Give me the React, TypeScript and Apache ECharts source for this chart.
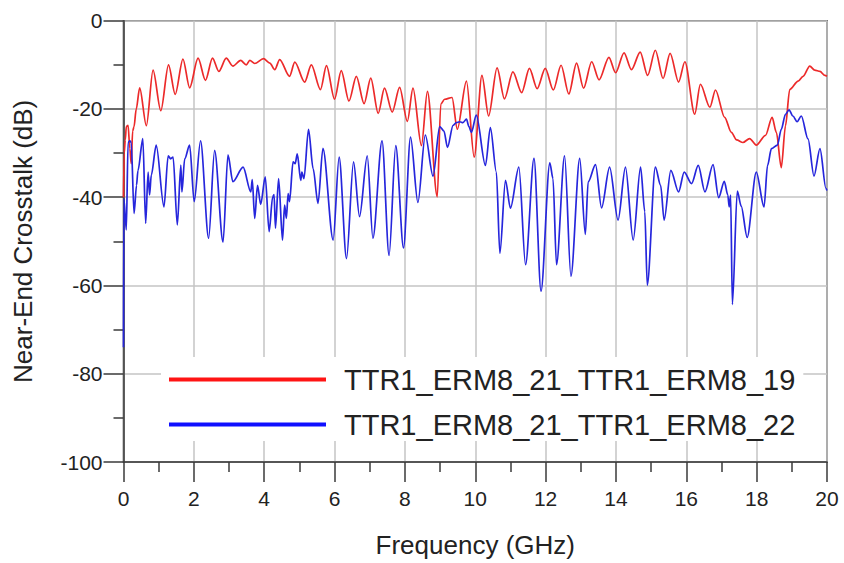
import React, { useEffect, useRef } from "react";
import * as echarts from "echarts";

const xTicks = [0, 2, 4, 6, 8, 10, 12, 14, 16, 18, 20];
const yTicks = [-100, -80, -60, -40, -20, 0];

const seriesNames = ["TTR1_ERM8_21_TTR1_ERM8_19", "TTR1_ERM8_21_TTR1_ERM8_22"];

const redFreq = [
  0.0, 0.02, 0.05, 0.08, 0.13, 0.18, 0.22, 0.26, 0.3, 0.36, 0.46, 0.65, 0.84, 1.06, 1.28, 1.47, 1.69, 1.88,
  2.12, 2.33, 2.53, 2.71, 2.92, 3.11, 3.33, 3.49, 3.59, 3.73, 3.98, 4.16, 4.3, 4.44, 4.72, 4.87, 5.15, 5.34,
  5.6, 5.77, 6.0, 6.19, 6.41, 6.62, 6.84, 7.03, 7.24, 7.42, 7.64, 7.85, 8.07, 8.23, 8.47, 8.64, 8.92, 9.02,
  9.13, 9.34, 9.49, 9.75, 9.97, 10.19, 10.38, 10.62, 10.83, 11.07, 11.32, 11.54, 11.76, 11.99, 12.22, 12.44,
  12.66, 12.88, 13.08, 13.31, 13.52, 13.8, 13.99, 14.23, 14.44, 14.69, 14.9, 15.12, 15.34, 15.54, 15.78,
  15.96, 16.24, 16.4, 16.67, 16.83, 17.09, 17.28, 17.43, 17.61, 17.8, 17.99, 18.25, 18.44, 18.56, 18.7,
  18.82, 18.94, 19.18, 19.32, 19.51, 19.65, 19.8, 19.94, 20.0,
];
const redDb = [
  -40, -30, -27, -24, -23.7, -29, -32.4, -25, -24, -20.1, -15.2, -23.8, -11.2, -20.4, -10, -16.7, -8.7, -15.2,
  -8.5, -13.5, -8.5, -11.5, -8.5, -10.3, -9, -10, -9, -9.7, -8.6, -9.6, -11.1, -8.8, -12.6, -9.4, -13.9, -10,
  -15.6, -10.2, -17.8, -11.3, -18.2, -12.6, -18.8, -13, -21, -15.3, -20.7, -15.1, -22.8, -15.3, -28.3, -16,
  -39.9, -18.9, -17.8, -17.4, -24.6, -13.7, -30.9, -12.4, -21.6, -10.7, -17.7, -11.6, -16.3, -10.8, -15.4,
  -10.8, -15.7, -10.1, -16.6, -9.6, -15.3, -9.3, -13.4, -8.3, -11.8, -7.3, -11.1, -7.1, -12.4, -6.7, -13.1,
  -7.4, -13.9, -9.3, -21.2, -14.4, -19.6, -15.7, -21.9, -25.3, -27, -27.6, -26.7, -28.2, -26, -21.9, -25.3,
  -33.3, -23.8, -15.6, -13.7, -12.6, -10.3, -11.2, -11.5, -12.4, -12.6,
];

const blueFreq = [
  0.0, 0.01, 0.08, 0.13, 0.18, 0.22, 0.3, 0.37, 0.41, 0.55, 0.63, 0.7, 0.74, 0.79, 0.93, 1.15, 1.27, 1.34, 1.41,
  1.53, 1.63, 1.66, 1.74, 1.88, 2.01, 2.19, 2.42, 2.59, 2.83, 2.97, 3.11, 3.4, 3.62, 3.66, 3.73, 3.81, 3.9,
  4.03, 4.14, 4.24, 4.28, 4.32, 4.41, 4.52, 4.58, 4.63, 4.68, 4.72, 4.82, 4.88, 4.94, 5.04, 5.07, 5.13, 5.26,
  5.39, 5.53, 5.67, 5.96, 6.13, 6.34, 6.54, 6.71, 6.93, 7.09, 7.35, 7.55, 7.74, 7.96, 8.16, 8.37, 8.58, 8.8,
  8.99, 9.11, 9.21, 9.37, 9.46, 9.56, 9.65, 9.75, 9.82, 9.89, 10.03, 10.29, 10.43, 10.6, 10.7, 10.86, 11.0,
  11.24, 11.43, 11.67, 11.87, 12.12, 12.21, 12.31, 12.54, 12.72, 12.97, 13.13, 13.21, 13.42, 13.59, 13.82,
  14.06, 14.27, 14.49, 14.7, 14.82, 14.89, 15.12, 15.27, 15.37, 15.56, 15.78, 15.94, 16.15, 16.34, 16.53,
  16.76, 16.92, 17.08, 17.18, 17.22, 17.26, 17.31, 17.45, 17.56, 17.73, 17.99, 18.21, 18.31, 18.42, 18.59,
  18.7, 18.82, 18.92, 19.03, 19.15, 19.27, 19.46, 19.63, 19.8, 19.97, 20.0,
];
const blueDb = [
  -74, -40.3, -47.4, -27.6, -27.2, -27.6, -43.7, -37.3, -34, -26.7, -45.9, -34.3, -39.5, -35, -28.2, -42.2,
  -30.6, -31.3, -30.9, -46.3, -32.7, -38.8, -31.3, -28.2, -41, -27.2, -49.3, -29.4, -50.2, -30.4, -36.5, -33.2,
  -38.8, -36, -44.8, -37.3, -41.6, -35.4, -47.8, -40, -39.4, -47, -35.8, -49.7, -41.8, -44.8, -39.2, -41, -32,
  -32.4, -30.2, -36.2, -34.3, -35.8, -24.6, -33.5, -41.4, -28.9, -49.7, -30.9, -53.9, -32, -44.4, -30.6, -49.3,
  -27.2, -53.2, -28.3, -51.5, -26.4, -41.2, -25.9, -35.2, -24, -25, -28.7, -23.7, -23.1, -22.9, -23.1, -22.3,
  -24, -25.3, -21.4, -32.8, -24.2, -34.3, -52.7, -36.2, -42.5, -33.2, -55.3, -31.2, -61.3, -32.2, -35.8, -55.3,
  -30.6, -57.9, -31.2, -48.4, -36.5, -32.6, -42.4, -33.2, -45.2, -33.2, -49.7, -33.2, -43.3, -59.9, -33.2,
  -37.3, -45.2, -33.9, -38.8, -34.3, -36.9, -32.8, -38.8, -32.6, -40.1, -36.4, -39.5, -42.2, -39.5, -64.3,
  -38.6, -42, -49.1, -34.3, -42.2, -32.8, -29, -28.2, -24.6, -21.2, -20.2, -21.6, -22.9, -21.6, -26.8, -35.2,
  -29, -38, -38.5,
];

const FONT = "'Liberation Sans', Arial, sans-serif";

export default function App() {
  const ref = useRef<HTMLDivElement>(null);
  useEffect(() => {
    if (!ref.current) return;
    const chart = echarts.init(ref.current, undefined, { renderer: "svg" });
    const red = redFreq.map((f, i) => [f, redDb[i]]);
    const blue = blueFreq.map((f, i) => [f, blueDb[i]]);
    chart.setOption({
      animation: false,
      backgroundColor: "#ffffff",
      grid: {
        left: 123.5,
        right: 17,
        top: 20.7,
        bottom: 97.3,
        show: true,
        borderColor: "#3a3a3a",
        borderWidth: 1.5,
        backgroundColor: "transparent",
      },
      xAxis: {
        type: "value",
        min: xTicks[0],
        max: xTicks[xTicks.length - 1],
        interval: 2,
        name: "Frequency (GHz)",
        nameLocation: "middle",
        nameGap: 70,
        nameTextStyle: { fontSize: 26, color: "#222", fontFamily: FONT },
        axisLine: { onZero: false, lineStyle: { color: "#3a3a3a", width: 1.5 } },
        axisTick: { show: true, inside: false, length: 20, lineStyle: { color: "#3a3a3a", width: 1.5 } },
        minorTick: { show: true, splitNumber: 2, length: 10, lineStyle: { color: "#3a3a3a", width: 1.5 } },
        axisLabel: { fontSize: 21, color: "#222", fontFamily: FONT, margin: 26 },
        splitLine: { show: true, lineStyle: { color: "#c4c4c4", width: 1.5 } },
      },
      yAxis: {
        type: "value",
        min: yTicks[0],
        max: yTicks[yTicks.length - 1],
        interval: 20,
        name: "Near-End Crosstalk (dB)",
        nameLocation: "middle",
        nameGap: 88,
        nameTextStyle: { fontSize: 26, color: "#222", fontFamily: FONT },
        axisLine: { onZero: false, lineStyle: { color: "#3a3a3a", width: 1.5 } },
        axisTick: { show: true, inside: false, length: 20, lineStyle: { color: "#3a3a3a", width: 1.5 } },
        minorTick: { show: true, splitNumber: 2, length: 10, lineStyle: { color: "#3a3a3a", width: 1.5 } },
        axisLabel: { fontSize: 21, color: "#222", fontFamily: FONT, margin: 21 },
        splitLine: { show: true, lineStyle: { color: "#c4c4c4", width: 1.5 } },
      },
      legend: {
        orient: "vertical",
        left: 161,
        top: 357,
        padding: [8, 8, 2, 8],
        itemGap: 16,
        itemWidth: 157,
        itemHeight: 4,
        icon: "rect",
        backgroundColor: "#ffffff",
        textStyle: { fontSize: 29, color: "#222", fontFamily: FONT, padding: [0, 0, 0, 13] },
        data: [
          { name: seriesNames[0], itemStyle: { color: "#ff1414" } },
          { name: seriesNames[1], itemStyle: { color: "#1010ff" } },
        ],
      },
      series: [
        {
          name: seriesNames[0],
          type: "line",
          data: red,
          showSymbol: false,
          smooth: 0.3,
          smoothMonotone: "x",
          lineStyle: { color: "#ec2a2a", width: 1.7 },
          itemStyle: { color: "#ec2a2a" },
        },
        {
          name: seriesNames[1],
          type: "line",
          data: blue,
          showSymbol: false,
          smooth: 0.3,
          smoothMonotone: "x",
          lineStyle: { color: "#2626dc", width: 1.7 },
          itemStyle: { color: "#2626dc" },
        },
      ],
    });
    return () => chart.dispose();
  }, []);
  return (
    <div
      ref={ref}
      style={{ position: "absolute", left: 0, top: 0, width: 844, height: 563, background: "#fff" }}
    />
  );
}
